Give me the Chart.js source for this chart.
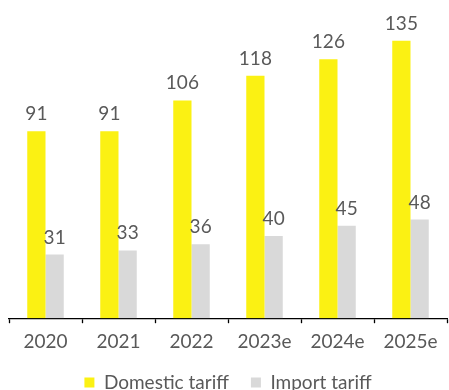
<!DOCTYPE html>
<html>
<head>
<meta charset="utf-8">
<script src="https://cdn.jsdelivr.net/npm/chart.js@4.4.1/dist/chart.umd.min.js"></script>
<style>
  html, body { margin: 0; padding: 0; background: #ffffff; }
  #wrap { width: 449px; height: 390px; }
</style>
</head>
<body>
<div id="wrap"><canvas id="c" width="449" height="390"></canvas></div>
<script>
// Tariff figures by year (e = estimate)
const years = ['2020', '2021', '2022', '2023e', '2024e', '2025e'];
const domesticTariff = [91, 91, 106, 118, 126, 135];
const importTariff = [31, 33, 36, 40, 45, 48];
const seriesNames = ['Domestic tariff', 'Import tariff'];

const FONT = 'Lato, "Open Sans", sans-serif';
const TEXT_GREY = '#595959';

// Draws each bar's value just above its top
const valueLabels = {
  id: 'valueLabels',
  afterDatasetsDraw(chart) {
    const ctx = chart.ctx;
    ctx.save();
    ctx.font = '19px ' + FONT;
    ctx.fillStyle = TEXT_GREY;
    ctx.textAlign = 'center';
    ctx.textBaseline = 'alphabetic';
    chart.data.datasets.forEach((ds, i) => {
      const meta = chart.getDatasetMeta(i);
      meta.data.forEach((bar, j) => {
        ctx.fillText(String(ds.data[j]), bar.x, bar.y - 11);
      });
    });
    ctx.restore();
  }
};

new Chart(document.getElementById('c'), {
  type: 'bar',
  data: {
    labels: years,
    datasets: [
      { label: seriesNames[0], data: domesticTariff, backgroundColor: '#FBF113' },
      { label: seriesNames[1], data: importTariff, backgroundColor: '#D9D9D9' }
    ]
  },
  options: {
    responsive: false,
    animation: false,
    devicePixelRatio: 1,
    // the legend sits tight against the bottom edge
    layout: { padding: { top: 10, left: 9, right: 2, bottom: -12 } },
    datasets: { bar: { categoryPercentage: 0.5, barPercentage: 1.0 } },
    scales: {
      x: {
        grid: {
          drawOnChartArea: false,
          drawTicks: true,
          tickLength: 5,
          tickColor: '#000000',
          tickWidth: 1.3,
          offset: true
        },
        border: { display: true, color: '#000000', width: 1.3 },
        ticks: {
          color: TEXT_GREY,
          font: { family: FONT, size: 19 },
          padding: 7,
          maxRotation: 0
        },
        // pull the legend up closer to the year labels
        afterFit(scale) { scale.height -= 9; }
      },
      y: {
        display: false,
        min: 0,
        max: 150
      }
    },
    plugins: {
      legend: {
        position: 'bottom',
        labels: {
          boxWidth: 10,
          boxHeight: 10,
          padding: 22,
          color: TEXT_GREY,
          font: { family: FONT, size: 19 }
        }
      },
      tooltip: { enabled: false }
    }
  },
  plugins: [valueLabels]
});
</script>
</body>
</html>
